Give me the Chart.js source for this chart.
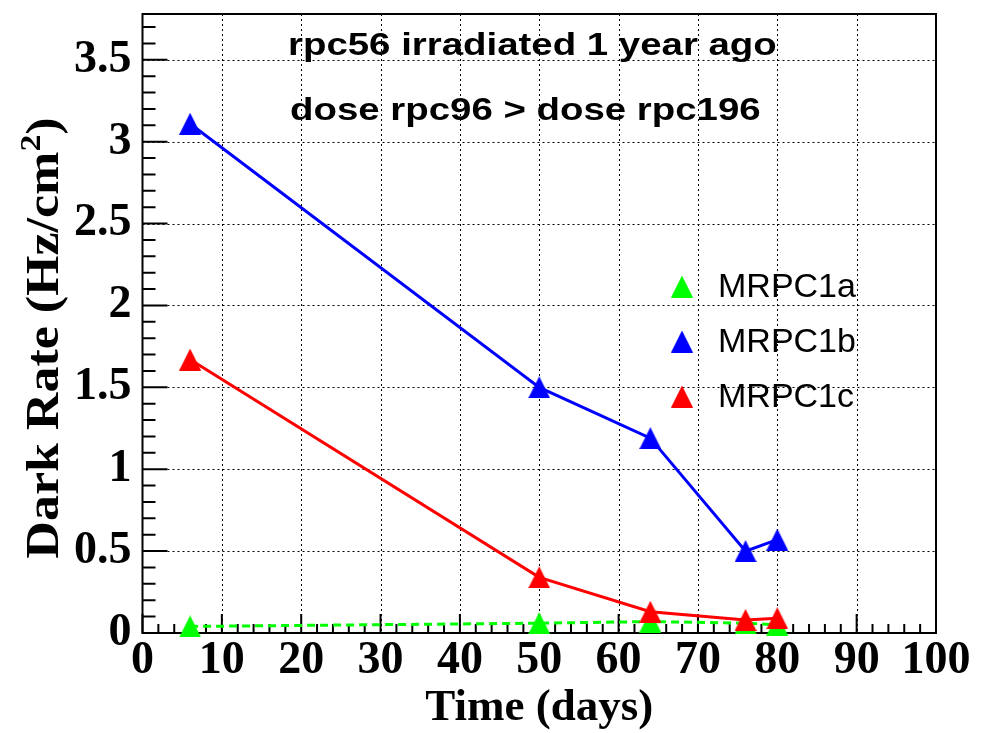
<!DOCTYPE html>
<html>
<head>
<meta charset="utf-8">
<script src="https://cdn.jsdelivr.net/npm/chart.js@4.4.0/dist/chart.umd.min.js"></script>
<style>
  body { margin: 0; background: #fff; }
  canvas { display: block; }
</style>
</head>
<body>
<canvas id="myChart" width="987" height="733"></canvas>
<script>
// data
var days = [6, 50, 64, 76, 80];
var rateA = [0.04, 0.06, 0.07, 0.06, 0.05];
var rateB = [3.11, 1.5, 1.19, 0.5, 0.57];
var rateC = [1.67, 0.34, 0.13, 0.08, 0.09];
var seriesNames = ["MRPC1a", "MRPC1b", "MRPC1c"];
var seriesColors = ["#00ff00", "#0000ff", "#ff0000"];
var xTicks = [0, 10, 20, 30, 40, 50, 60, 70, 80, 90, 100];
var yTicks = [0, 0.5, 1, 1.5, 2, 2.5, 3, 3.5];
var yTickLabels = ["0", "0.5", "1", "1.5", "2", "2.5", "3", "3.5"];
var notes = ["rpc56 irradiated 1 year ago", "dose rpc96 > dose rpc196"];

//triangle marker like ROOT's full triangle
function triangle(color) {
  var c = document.createElement("canvas");
  c.width = 22;
  c.height = 22;
  var g = c.getContext("2d");
  g.fillStyle = color;
  g.beginPath();
  g.moveTo(11, 0);
  g.lineTo(22, 22);
  g.lineTo(0, 22);
  g.closePath();
  g.fill();
  return c;
}
var markers = seriesColors.map(triangle);

function pts(ys) {
  return days.map(function (d, i) {
    return { x: d, y: ys[i] };
  });
}

var serif = "'Liberation Serif', 'Times New Roman', serif";
var sans = "'Liberation Sans', Arial, Helvetica, sans-serif";

var rootStyle = {
  id: "rootStyle",
  beforeDatasetsDraw: function (chart) {
    var ctx = chart.ctx;
    var a = chart.chartArea;
    var xs = chart.scales.x;
    var ys = chart.scales.y;
    ctx.save();
    // dotted grid
    ctx.strokeStyle = "#000";
    ctx.lineWidth = 1;
    ctx.setLineDash([2, 3]);
    ctx.beginPath();
    xTicks.forEach(function (v) {
      if (v > 0 && v < 100) {
        var px = Math.round(xs.getPixelForValue(v)) + 0.5;
        ctx.moveTo(px, a.top);
        ctx.lineTo(px, a.bottom);
      }
    });
    yTicks.forEach(function (v) {
      if (v > 0) {
        var py = Math.round(ys.getPixelForValue(v)) + 0.5;
        ctx.moveTo(a.left, py);
        ctx.lineTo(a.right, py);
      }
    });
    ctx.stroke();
    ctx.setLineDash([]);

    // inside ticks
    ctx.lineWidth = 2;
    ctx.beginPath();
    for (var t = 0; t <= 100; t += 2) {
      var px = xs.getPixelForValue(t);
      var len = t % 10 === 0 ? 19 : 9;
      ctx.moveTo(px, a.bottom);
      ctx.lineTo(px, a.bottom - len);
    }
    for (var k = 0; k <= 37; k++) {
      var py = ys.getPixelForValue(k / 10);
      var ylen = k % 5 === 0 ? 25 : 13;
      ctx.moveTo(a.left, py);
      ctx.lineTo(a.left + ylen, py);
    }
    ctx.stroke();

    ctx.lineWidth = 2;
    ctx.strokeRect(a.left, a.top, a.right - a.left, a.bottom - a.top);
    ctx.restore();
  },
  afterDraw: function (chart) {
    var ctx = chart.ctx;
    var a = chart.chartArea;
    ctx.save();
    ctx.fillStyle = "#000";

    // notes
    ctx.font = "bold 32px " + sans;
    ctx.textAlign = "left";
    ctx.textBaseline = "alphabetic";
    ctx.save();
    ctx.translate(288, 55);
    ctx.scale(1.2, 1);
    ctx.fillText(notes[0], 0, 0);
    ctx.restore();
    ctx.save();
    ctx.translate(290, 120);
    ctx.scale(1.2, 1);
    ctx.fillText(notes[1], 0, 0);
    ctx.restore();

    // legend
    ctx.font = "34px " + sans;
    for (var i = 0; i < 3; i++) {
      var cy = 286.5 + i * 55;
      ctx.drawImage(markers[i], 682 - 11, cy - 11);
      ctx.fillText(seriesNames[i], 718, 297 + i * 55);
    }

    // axis titles
    ctx.font = "bold 45px " + serif;
    ctx.textAlign = "center";
    ctx.fillText("Time (days)", (a.left + a.right) / 2, 720);

    ctx.save();
    ctx.translate(58, 338);
    ctx.rotate(-Math.PI / 2);
    ctx.scale(1.13, 1);
    ctx.textAlign = "left";
    var p1 = "Dark Rate (Hz/cm";
    var p2 = "2";
    var p3 = ")";
    ctx.font = "bold 46px " + serif;
    var w1 = ctx.measureText(p1).width;
    var w3 = ctx.measureText(p3).width;
    ctx.font = "bold 30px " + serif;
    var w2 = ctx.measureText(p2).width;
    var x0 = -(w1 + w2 + w3) / 2;
    ctx.font = "bold 46px " + serif;
    ctx.fillText(p1, x0, 0);
    ctx.fillText(p3, x0 + w1 + w2, 0);
    ctx.font = "bold 30px " + serif;
    ctx.fillText(p2, x0 + w1, -18);
    ctx.restore();

    ctx.restore();
  },
};

var chart = new Chart(document.getElementById("myChart").getContext("2d"), {
  type: "scatter",
  data: {
    datasets: [
      {
        label: seriesNames[0],
        data: pts(rateA),
        showLine: true,
        borderColor: seriesColors[0],
        backgroundColor: seriesColors[0],
        borderWidth: 3,
        borderDash: [8, 5],
        pointStyle: markers[0],
        pointRadius: 11,
        clip: false,
        order: 3,
      },
      {
        label: seriesNames[1],
        data: pts(rateB),
        showLine: true,
        borderColor: seriesColors[1],
        backgroundColor: seriesColors[1],
        borderWidth: 3,
        pointStyle: markers[1],
        pointRadius: 11,
        clip: false,
        order: 2,
      },
      {
        label: seriesNames[2],
        data: pts(rateC),
        showLine: true,
        borderColor: seriesColors[2],
        backgroundColor: seriesColors[2],
        borderWidth: 3,
        pointStyle: markers[2],
        pointRadius: 11,
        clip: false,
        order: 1,
      },
    ],
  },
  options: {
    responsive: false,
    animation: false,
    devicePixelRatio: 1,
    layout: { padding: { left: 0, right: 51, top: 10, bottom: 0 } },
    plugins: {
      legend: { display: false },
      tooltip: { enabled: false },
    },
    scales: {
      x: {
        type: "linear",
        min: 0,
        max: 100,
        grid: { display: false, drawTicks: false },
        border: { display: false },
        afterBuildTicks: function (scale) {
          scale.ticks = xTicks.map(function (v) {
            return { value: v };
          });
        },
        afterFit: function (scale) {
          scale.height = 100;
          scale.paddingLeft = 0;
          scale.paddingRight = 0;
        },
        ticks: {
          autoSkip: false,
          maxRotation: 0,
          padding: 1,
          color: "#000",
          font: { family: serif, size: 46, weight: "bold" },
          callback: function (v) {
            return String(v);
          },
        },
      },
      y: {
        type: "linear",
        min: 0,
        max: 3.78,
        grid: { display: false, drawTicks: false },
        border: { display: false },
        afterBuildTicks: function (scale) {
          scale.ticks = yTicks.map(function (v) {
            return { value: v };
          });
        },
        afterFit: function (scale) {
          scale.width = 142.5;
          scale.paddingTop = 0;
          scale.paddingBottom = 0;
        },
        ticks: {
          autoSkip: false,
          padding: 11,
          color: "#000",
          font: { family: serif, size: 46, weight: "bold" },
          callback: function (v, i) {
            return yTickLabels[i];
          },
        },
      },
    },
  },
  plugins: [rootStyle],
});
</script>
</body>
</html>
